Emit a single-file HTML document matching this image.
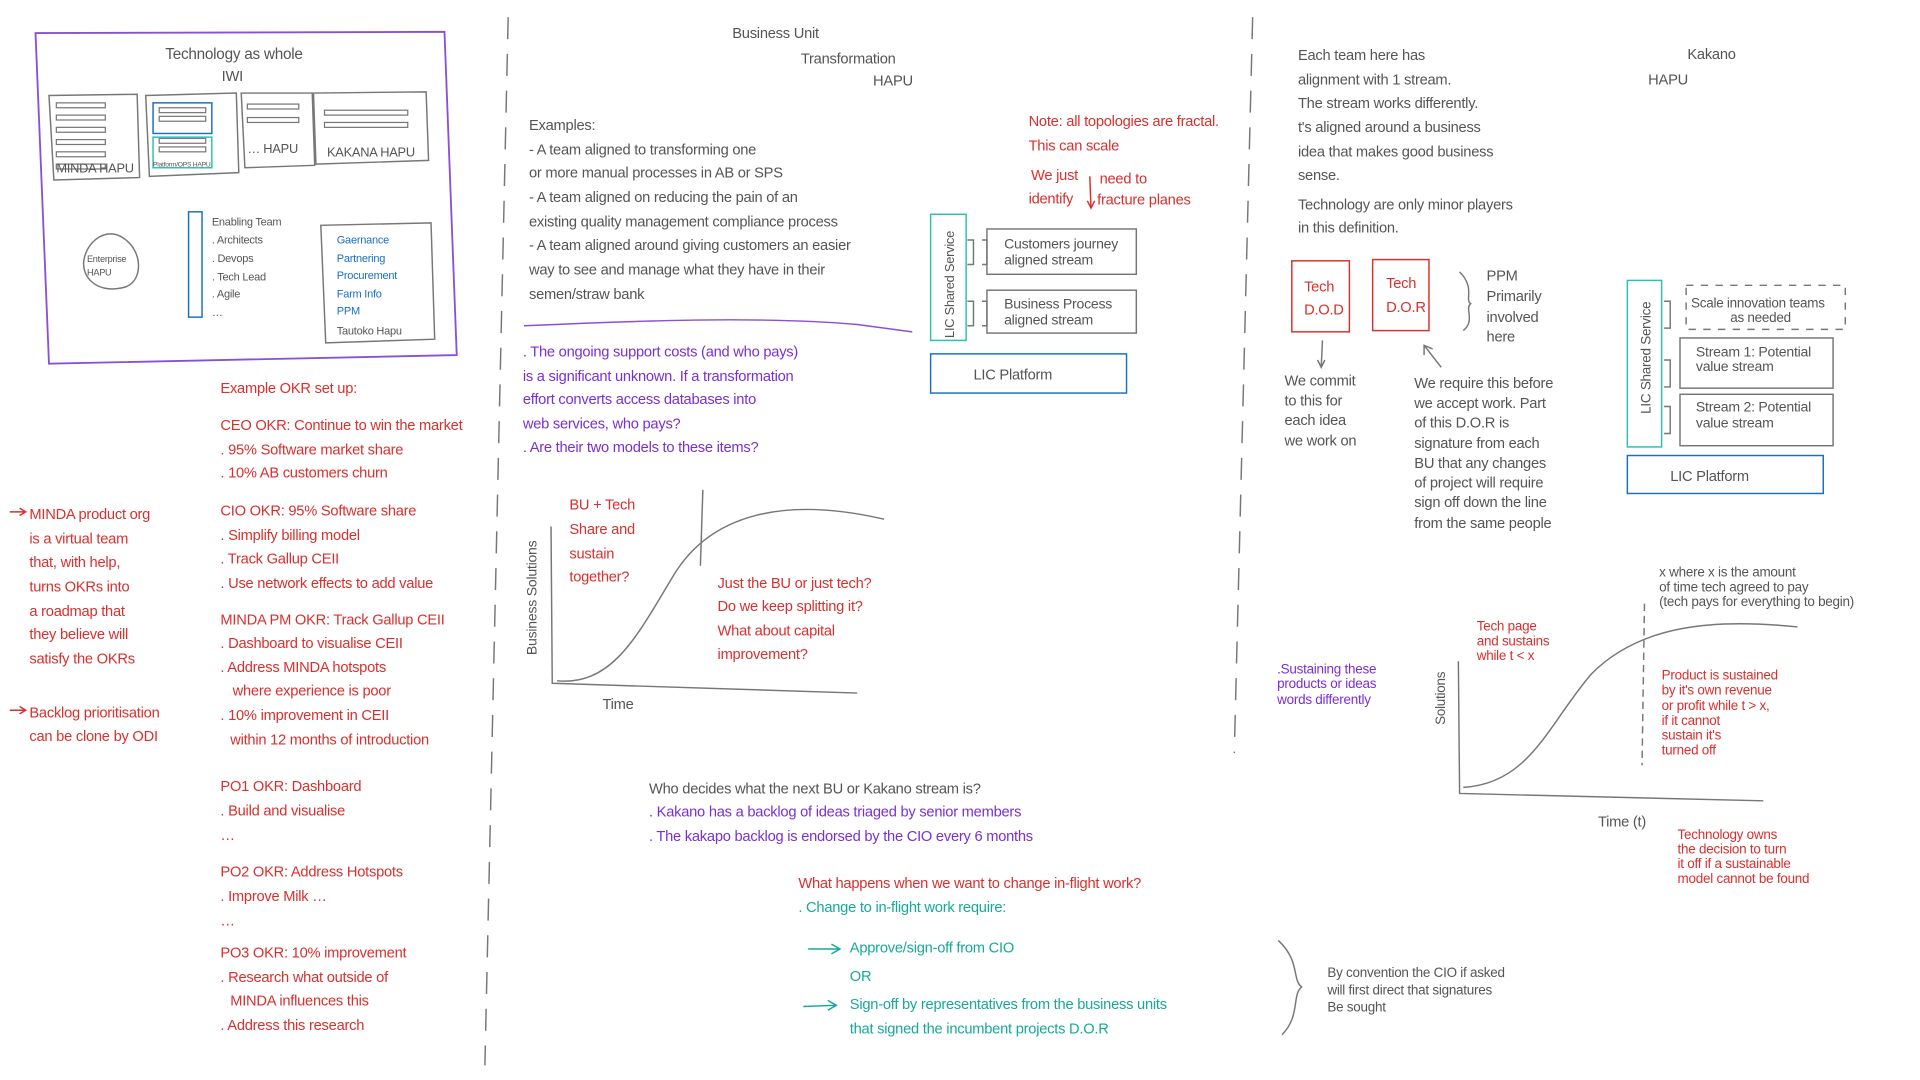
<!DOCTYPE html>
<html><head><meta charset="utf-8"><style>
html,body{margin:0;padding:0;background:#fff;width:1920px;height:1080px;overflow:hidden}
svg{display:block}
text{font-family:"Liberation Sans Narrow","Liberation Sans",sans-serif;fill:#555;letter-spacing:-0.2px}
.r{fill:#d8302e}.p{fill:#7a2fd6}.t{fill:#17a89a}.b{fill:#1a6fc4}
</style></head><body>
<svg width="1920" height="1080" viewBox="0 0 1568 882" xmlns="http://www.w3.org/2000/svg" font-size="12">
<g fill="none" stroke="#777" stroke-width="1.2">
<path d="M415 14 L396 870" stroke-dasharray="18 12"/>
<path d="M1023 14 L1008 615" stroke-dasharray="18 12"/>
<path d="M29 27 L363 26 L373 290 L40 297 Z" stroke="#8a4fd8" stroke-width="1.5"/>
<path d="M40 78 L112 77 L114 145 L44 147 Z"/>
<path d="M119 78 L193 76 L195 141 L122 144 Z"/>
<path d="M197 76 L255 76 L257 135 L200 137 Z"/>
<path d="M256 76 L348 75 L350 131 L258 134 Z"/>
<g stroke-width="1">
<rect x="46" y="84" width="40" height="4"/><rect x="46" y="94" width="40" height="4"/><rect x="46" y="104" width="40" height="4"/><rect x="46" y="114" width="40" height="4"/><rect x="46" y="124" width="40" height="4"/><rect x="46" y="134" width="40" height="4"/>
<rect x="202" y="85" width="42" height="4"/><rect x="202" y="96" width="42" height="4"/>
<rect x="265" y="90" width="68" height="4"/><rect x="265" y="100" width="68" height="4"/>
<rect x="130" y="88" width="38" height="4"/><rect x="130" y="95" width="38" height="4"/>
<rect x="130" y="113" width="38" height="4"/><rect x="130" y="120" width="38" height="4"/>
</g>
<rect x="125" y="84" width="48" height="25" stroke="#1a6fc4"/>
<rect x="125" y="112" width="48" height="25" stroke="#2cc0b0"/>
<path d="M100 194 C118 205 117 232 100 235 C78 240 65 225 69 210 C73 195 88 186 100 194 Z"/>
<rect x="154" y="173" width="11" height="86" stroke="#1a6fc4"/>
<path d="M262 184 L352 182 L355 277 L266 280 Z"/>
<path d="M428 266 C520 262 620 258 700 265 L745 271" stroke="#8a4fd8"/>
<rect x="760" y="175" width="29" height="103" stroke="#2cc0b0"/>
<rect x="806" y="187" width="122" height="37"/>
<rect x="806" y="237" width="122" height="35"/>
<path d="M790 196 h5 v20 h-5 M802 196 h4 v20 h-4 M790 246 h5 v20 h-5 M802 246 h4 v20 h-4"/>
<rect x="760" y="289" width="160" height="32" stroke="#1a6fc4"/>
<path d="M450 430 L451 558 L700 566"/>
<path d="M455 556 C500 560 520 520 550 470 C580 420 640 405 722 424"/>
<path d="M574 400 L572 462"/>
<path d="M890 144 L891 170 M888 164 L891 170 L894 164" stroke="#d8302e"/>
<rect x="1055" y="213" width="47" height="58" stroke="#d8302e"/>
<rect x="1121" y="212" width="46" height="58" stroke="#d8302e"/>
<path d="M1192 222 C1205 235 1196 245 1201 248 C1196 252 1205 262 1195 270"/>
<path d="M1080 278 L1079 300 M1076 294 L1079 300 L1082 294"/>
<path d="M1177 300 L1163 282 M1163 290 L1163 282 L1170 285"/>
<rect x="1329" y="229" width="28" height="136" stroke="#2cc0b0"/>
<rect x="1377" y="233" width="130" height="36" stroke-dasharray="6 6"/>
<rect x="1372" y="276" width="125" height="41"/>
<rect x="1372" y="322" width="125" height="42"/>
<path d="M1359 246 h5 v22 h-5 M1359 294 h5 v22 h-5 M1359 332 h5 v22 h-5"/>
<rect x="1329" y="372" width="160" height="31" stroke="#1a6fc4"/>
<path d="M1191 540 L1192 648 L1440 654"/>
<path d="M1195 643 C1250 640 1265 590 1300 550 C1340 510 1400 505 1468 512"/>
<path d="M1343 493 L1341 625" stroke-dasharray="6 4"/>
<path d="M1044 768 C1062 785 1055 800 1063 806 C1055 812 1062 830 1047 845"/>
<path d="M660 775 L685 775 M679 771 L686 775 L679 779 M656 822 L682 821 M676 817 L683 821 L676 825" stroke="#17a89a"/>
<path d="M8 418 L20 418 M16 415 L21 418 L16 421 M8 580 L20 580 M16 577 L21 580 L16 583" stroke="#d8302e"/>
</g>
<text x="135" y="48" font-size="12.5">Technology as whole</text>
<text x="181" y="66">IWI</text>
<text x="46" y="141" font-size="10.5">MINDA HAPU</text>
<text x="125" y="136" font-size="5.5">Platform/OPS HAPU</text>
<text x="202" y="125" font-size="10.5">… HAPU</text>
<text x="267" y="128" font-size="10.5">KAKANA HAPU</text>
<text x="71" y="214" font-size="7.5">Enterprise</text><text x="71" y="225" font-size="7.5">HAPU</text>
<text font-size="9"><tspan x="173" y="184">Enabling Team</tspan><tspan x="173" y="199">. Architects</tspan><tspan x="173" y="214">. Devops</tspan><tspan x="173" y="229">. Tech Lead</tspan><tspan x="173" y="243">. Agile</tspan><tspan x="173" y="258">…</tspan></text>
<text font-size="9" class="b"><tspan x="275" y="199">Gaernance</tspan><tspan x="275" y="214">Partnering</tspan><tspan x="275" y="228">Procurement</tspan><tspan x="275" y="243">Farm Info</tspan><tspan x="275" y="257">PPM</tspan></text>
<text x="275" y="273" font-size="9">Tautoko Hapu</text>
<text class="r"><tspan x="180" y="321">Example OKR set up:</tspan>
<tspan x="180" y="351">CEO OKR: Continue to win the market</tspan><tspan x="180" y="371">. 95% Software market share</tspan><tspan x="180" y="390">. 10% AB customers churn</tspan>
<tspan x="180" y="421">CIO OKR: 95% Software share</tspan><tspan x="180" y="441">. Simplify billing model</tspan><tspan x="180" y="460">. Track Gallup CEII</tspan><tspan x="180" y="480">. Use network effects to add value</tspan>
<tspan x="180" y="510">MINDA PM OKR: Track Gallup CEII</tspan><tspan x="180" y="529">. Dashboard to visualise CEII</tspan><tspan x="180" y="549">. Address MINDA hotspots</tspan><tspan x="190" y="568">where experience is poor</tspan><tspan x="180" y="588">. 10% improvement in CEII</tspan><tspan x="188" y="608">within 12 months of introduction</tspan>
<tspan x="180" y="646">PO1 OKR: Dashboard</tspan><tspan x="180" y="666">. Build and visualise</tspan><tspan x="180" y="686">…</tspan>
<tspan x="180" y="716">PO2 OKR: Address Hotspots</tspan><tspan x="180" y="736">. Improve Milk …</tspan><tspan x="180" y="756">…</tspan>
<tspan x="180" y="782">PO3 OKR: 10% improvement</tspan><tspan x="180" y="802">. Research what outside of</tspan><tspan x="188" y="821">MINDA influences this</tspan><tspan x="180" y="841">. Address this research</tspan></text>
<text class="r"><tspan x="24" y="424">MINDA product org</tspan><tspan x="24" y="444">is a virtual team</tspan><tspan x="24" y="463">that, with help,</tspan><tspan x="24" y="483">turns OKRs into</tspan><tspan x="24" y="503">a roadmap that</tspan><tspan x="24" y="522">they believe will</tspan><tspan x="24" y="542">satisfy the OKRs</tspan>
<tspan x="24" y="586">Backlog prioritisation</tspan><tspan x="24" y="605">can be clone by ODI</tspan></text>
<text x="598" y="31">Business Unit</text><text x="654" y="52">Transformation</text><text x="713" y="70">HAPU</text>
<text><tspan x="432" y="106">Examples:</tspan><tspan x="432" y="126">- A team aligned to transforming one</tspan><tspan x="432" y="145">or more manual processes in AB or SPS</tspan><tspan x="432" y="165">- A team aligned on reducing the pain of an</tspan><tspan x="432" y="185">existing quality management compliance process</tspan><tspan x="432" y="204">- A team aligned around giving customers an easier</tspan><tspan x="432" y="224">way to see and manage what they have in their</tspan><tspan x="432" y="244">semen/straw bank</tspan></text>
<text class="r"><tspan x="840" y="103">Note: all topologies are fractal.</tspan><tspan x="840" y="123">This can scale</tspan><tspan x="842" y="147">We just</tspan><tspan x="840" y="166">identify</tspan><tspan x="898" y="150">need to</tspan><tspan x="896" y="167">fracture planes</tspan></text>
<text transform="translate(779,276) rotate(-90)" font-size="10.5">LIC Shared Service</text>
<text x="820" y="203" font-size="11.5">Customers journey</text><text x="820" y="216" font-size="11.5">aligned stream</text>
<text x="820" y="252" font-size="11.5">Business Process</text><text x="820" y="265" font-size="11.5">aligned stream</text>
<text x="795" y="310">LIC Platform</text>
<text class="p"><tspan x="427" y="291">. The ongoing support costs (and who pays)</tspan><tspan x="427" y="311">is a significant unknown. If a transformation</tspan><tspan x="427" y="330">effort converts access databases into</tspan><tspan x="427" y="350">web services, who pays?</tspan><tspan x="427" y="369">. Are their two models to these items?</tspan></text>
<text class="r"><tspan x="465" y="416">BU + Tech</tspan><tspan x="465" y="436">Share and</tspan><tspan x="465" y="456">sustain</tspan><tspan x="465" y="475">together?</tspan>
<tspan x="586" y="480">Just the BU or just tech?</tspan><tspan x="586" y="499">Do we keep splitting it?</tspan><tspan x="586" y="519">What about capital</tspan><tspan x="586" y="538">improvement?</tspan></text>
<text transform="translate(438,535) rotate(-90)" font-size="11.5">Business Solutions</text>
<text x="492" y="579">Time</text>
<text x="530" y="648">Who decides what the next BU or Kakano stream is?</text>
<text class="p"><tspan x="530" y="667">. Kakano has a backlog of ideas triaged by senior members</tspan><tspan x="530" y="687">. The kakapo backlog is endorsed by the CIO every 6 months</tspan></text>
<text class="r" x="652" y="725">What happens when we want to change in-flight work?</text>
<text class="t"><tspan x="652" y="745">. Change to in-flight work require:</tspan><tspan x="694" y="778">Approve/sign-off from CIO</tspan><tspan x="694" y="801">OR</tspan><tspan x="694" y="824">Sign-off by representatives from the business units</tspan><tspan x="694" y="844">that signed the incumbent projects D.O.R</tspan></text>
<text><tspan x="1060" y="49">Each team here has</tspan><tspan x="1060" y="69">alignment with 1 stream.</tspan><tspan x="1060" y="88">The stream works differently.</tspan><tspan x="1060" y="108">t's aligned around a business</tspan><tspan x="1060" y="128">idea that makes good business</tspan><tspan x="1060" y="147">sense.</tspan><tspan x="1060" y="171">Technology are only minor players</tspan><tspan x="1060" y="190">in this definition.</tspan></text>
<text x="1378" y="48">Kakano</text><text x="1346" y="69">HAPU</text>
<text class="r"><tspan x="1065" y="238">Tech</tspan><tspan x="1065" y="257">D.O.D</tspan><tspan x="1132" y="235">Tech</tspan><tspan x="1132" y="255">D.O.R</tspan></text>
<text><tspan x="1214" y="229">PPM</tspan><tspan x="1214" y="246">Primarily</tspan><tspan x="1214" y="263">involved</tspan><tspan x="1214" y="279">here</tspan></text>
<text><tspan x="1049" y="315">We commit</tspan><tspan x="1049" y="331">to this for</tspan><tspan x="1049" y="347">each idea</tspan><tspan x="1049" y="364">we work on</tspan>
<tspan x="1155" y="317">We require this before</tspan><tspan x="1155" y="333">we accept work. Part</tspan><tspan x="1155" y="349">of this D.O.R is</tspan><tspan x="1155" y="366">signature from each</tspan><tspan x="1155" y="382">BU that any changes</tspan><tspan x="1155" y="398">of project will require</tspan><tspan x="1155" y="414">sign off down the line</tspan><tspan x="1155" y="431">from the same people</tspan></text>
<text transform="translate(1348,338) rotate(-90)" font-size="11">LIC Shared Service</text>
<text x="1381" y="251" font-size="11">Scale innovation teams</text><text x="1413" y="263" font-size="11">as needed</text>
<text x="1385" y="291" font-size="11.5">Stream 1: Potential</text><text x="1385" y="303" font-size="11.5">value stream</text>
<text x="1385" y="336" font-size="11.5">Stream 2: Potential</text><text x="1385" y="349" font-size="11.5">value stream</text>
<text x="1364" y="393">LIC Platform</text>
<text font-size="11"><tspan x="1355" y="471">x where x is the amount</tspan><tspan x="1355" y="483">of time tech agreed to pay</tspan><tspan x="1355" y="495">(tech pays for everything to begin)</tspan></text>
<text class="r" font-size="11"><tspan x="1206" y="515">Tech page</tspan><tspan x="1206" y="527">and sustains</tspan><tspan x="1206" y="539">while t &lt; x</tspan>
<tspan x="1357" y="555">Product is sustained</tspan><tspan x="1357" y="567">by it's own revenue</tspan><tspan x="1357" y="580">or profit while t &gt; x,</tspan><tspan x="1357" y="592">if it cannot</tspan><tspan x="1357" y="604">sustain it's</tspan><tspan x="1357" y="616">turned off</tspan>
<tspan x="1370" y="685">Technology owns</tspan><tspan x="1370" y="697">the decision to turn</tspan><tspan x="1370" y="709">it off if a sustainable</tspan><tspan x="1370" y="721">model cannot be found</tspan></text>
<text class="p" font-size="11"><tspan x="1043" y="550">.Sustaining these</tspan><tspan x="1043" y="562">products or ideas</tspan><tspan x="1043" y="575">words differently</tspan></text>
<text transform="translate(1180,592) rotate(-90)" font-size="11">Solutions</text>
<text x="1305" y="675">Time (t)</text>
<text font-size="11"><tspan x="1084" y="798">By convention the CIO if asked</tspan><tspan x="1084" y="812">will first direct that signatures</tspan><tspan x="1084" y="826">Be sought</tspan></text>
</svg>
</body></html>
